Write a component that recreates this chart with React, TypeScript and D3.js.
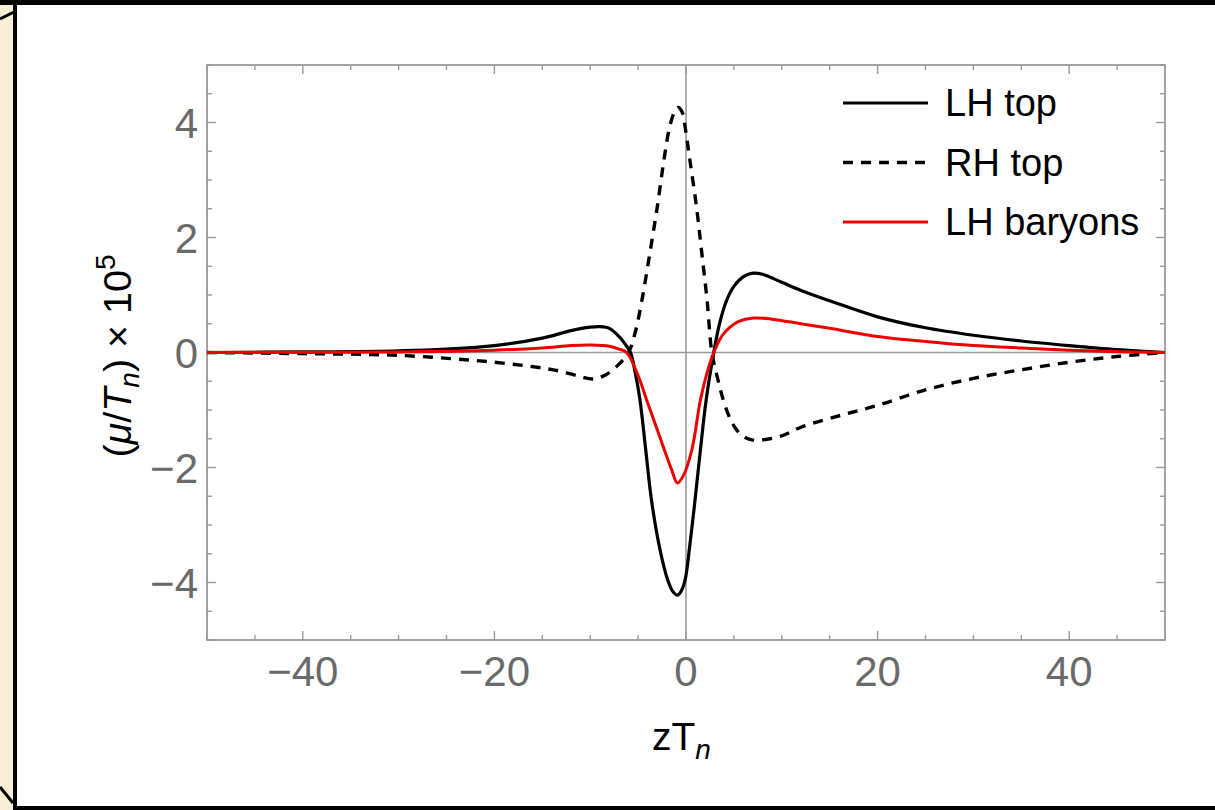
import React from "react";
import * as d3 from "d3";

const lhTopX = [-50, -40, -30, -25, -20, -15, -12, -10, -9, -8, -7, -6.5, -5.8, -5.3, -4.8, -4.2, -3.6, -2.7, -1.9, -1.4, -0.9, -0.5, -0.1, 0.4, 0.94, 1.5, 2.1, 2.9, 3.5, 4.25, 5, 6, 7, 8, 10, 12, 15, 20, 25, 30, 35, 40, 45, 50];
const lhTopY = [0, 0.01, 0.03, 0.06, 0.12, 0.25, 0.38, 0.44, 0.45, 0.42, 0.28, 0.18, 0, -0.35, -0.83, -1.7, -2.57, -3.44, -3.96, -4.15, -4.22, -4.15, -3.96, -3.35, -2.57, -1.7, -0.83, 0, 0.5, 0.91, 1.15, 1.32, 1.38, 1.36, 1.22, 1.08, 0.9, 0.62, 0.43, 0.3, 0.2, 0.12, 0.05, 0];

const rhTopX = [-50, -40, -30, -20, -15, -13, -11, -9.7, -8.5, -7.1, -6, -5.3, -4.6, -3.8, -3.0, -2.3, -1.7, -1.2, -0.8, -0.4, -0.1, 0.4, 1.1, 1.6, 2.2, 2.7, 3.3, 3.9, 4.6, 5.3, 6.1, 6.9, 8, 10, 12, 16, 20, 25, 30, 35, 40, 45, 50];
const rhTopY = [0, -0.02, -0.05, -0.17, -0.27, -0.33, -0.42, -0.46, -0.4, -0.22, 0, 0.35, 0.91, 1.7, 2.53, 3.35, 3.93, 4.18, 4.26, 4.18, 3.93, 3.35, 2.53, 1.8, 0.91, 0, -0.45, -0.83, -1.15, -1.35, -1.47, -1.52, -1.52, -1.45, -1.3, -1.1, -0.92, -0.65, -0.45, -0.3, -0.17, -0.07, 0];

const lhBarX = [-50, -40, -30, -20, -15, -12, -10, -8, -7, -6.2, -5, -4.1, -3.2, -2.2, -1.5, -0.9, -0.3, 0.6, 1.5, 2.2, 2.9, 3.8, 4.6, 5.5, 7, 9, 12, 15, 20, 25, 30, 35, 40, 45, 50];
const lhBarY = [0, 0.005, 0.01, 0.04, 0.08, 0.12, 0.13, 0.11, 0.06, 0, -0.4, -0.83, -1.25, -1.72, -2.04, -2.27, -2.15, -1.7, -0.83, -0.35, 0, 0.3, 0.44, 0.54, 0.6, 0.58, 0.5, 0.42, 0.28, 0.19, 0.12, 0.08, 0.04, 0.015, 0];

const xTicks = [-40, -20, 0, 20, 40];
const yTicks = [-4, -2, 0, 2, 4];
const legendLabels = ["LH top", "RH top", "LH baryons"];

const FONT = "'Liberation Sans', Arial, Helvetica, sans-serif";
const fmt = (v: number) => (v < 0 ? "\u2212" + Math.abs(v) : String(v));

export default function App() {
  const W = 1215, H = 810;
  const x = d3.scaleLinear().domain([-50, 50]).range([207, 1165]);
  const y = d3.scaleLinear().domain([-5, 5]).range([640, 65]);
  const line = d3.line<[number, number]>().x(d => x(d[0])).y(d => y(d[1])).curve(d3.curveCatmullRom.alpha(0.5));
  const zip = (a: number[], b: number[]) => a.map((v, i) => [v, b[i]] as [number, number]);

  const xMinor = d3.range(-50, 50.01, 5);
  const yMinor = d3.range(-5, 5.01, 0.5);
  const gray = "#9a9a9a";
  const [x0, x1] = x.range();
  const [y0, y1] = y.range();

  const series = [
    { d: zip(lhTopX, lhTopY), color: "#000", dash: "none", w: 3.2 },
    { d: zip(rhTopX, rhTopY), color: "#000", dash: "10,8", w: 3.4 },
    { d: zip(lhBarX, lhBarY), color: "#ee0000", dash: "none", w: 3 },
  ];

  return (
    <svg width={W} height={H} style={{ position: "absolute", left: 0, top: 0, background: "#fff" }}>
      {/* page frame */}
      <rect x={0} y={0} width={15} height={H} fill="#f5efd6" />
      <rect x={0} y={0} width={W} height={5} fill="#000" />
      <rect x={13} y={0} width={4} height={H} fill="#000" />
      <rect x={13} y={806} width={W} height={4} fill="#000" />
      <line x1={0} y1={19} x2={14} y2={12} stroke="#000" strokeWidth={3} />
      <line x1={0} y1={787} x2={13} y2={803} stroke="#000" strokeWidth={3} />

      {/* zero lines */}
      <line x1={x0} x2={x1} y1={y(0)} y2={y(0)} stroke={gray} strokeWidth={1.6} />
      <line x1={x(0)} x2={x(0)} y1={y0} y2={y1} stroke={gray} strokeWidth={1.6} />

      {/* ticks */}
      {xMinor.map(t => {
        const major = Math.abs(t % 20) < 1e-9;
        const len = major ? 9 : 5;
        return (
          <g key={"xt" + t}>
            <line x1={x(t)} x2={x(t)} y1={y0} y2={y0 - len} stroke={gray} strokeWidth={1.4} />
            <line x1={x(t)} x2={x(t)} y1={y1} y2={y1 + len} stroke={gray} strokeWidth={1.4} />
          </g>
        );
      })}
      {yMinor.map(t => {
        const major = Math.abs(t % 2) < 1e-9;
        const len = major ? 9 : 5;
        return (
          <g key={"yt" + t}>
            <line x1={x0} x2={x0 + len} y1={y(t)} y2={y(t)} stroke={gray} strokeWidth={1.4} />
            <line x1={x1} x2={x1 - len} y1={y(t)} y2={y(t)} stroke={gray} strokeWidth={1.4} />
          </g>
        );
      })}

      {/* frame */}
      <rect x={x0} y={y1} width={x1 - x0} height={y0 - y1} fill="none" stroke={gray} strokeWidth={1.8} />

      {/* tick labels */}
      {xTicks.map(t => (
        <text key={"xl" + t} x={x(t)} y={686} textAnchor="middle" fontFamily={FONT} fontSize={42} fill="#6a6a6a">{fmt(t)}</text>
      ))}
      {yTicks.map(t => (
        <text key={"yl" + t} x={198} y={y(t) + 15} textAnchor="end" fontFamily={FONT} fontSize={42} fill="#6a6a6a">{fmt(t)}</text>
      ))}

      {/* curves */}
      {series.map((s, i) => (
        <path key={"s" + i} d={line(s.d) || ""} fill="none" stroke={s.color} strokeWidth={s.w} strokeDasharray={s.dash} strokeLinejoin="round" />
      ))}

      {/* axis labels */}
      <text x={652} y={750} fontFamily={FONT} fontSize={39} fill="#000">
        zT<tspan fontStyle="italic" fontSize={28} dy={9}>n</tspan>
      </text>
      <text transform="translate(131,356) rotate(-90)" textAnchor="middle" fontFamily={FONT} fontSize={39.5} fill="#000">
        (<tspan fontStyle="italic">μ</tspan>/<tspan fontStyle="italic">T</tspan><tspan fontStyle="italic" fontSize={28} dy={8}>n</tspan><tspan dy={-8}>) × 10</tspan><tspan fontSize={28} dy={-16}>5</tspan>
      </text>

      {/* legend */}
      {legendLabels.map((lab, i) => {
        const ly = 103 + i * 59.5;
        const s = series[i];
        return (
          <g key={"lg" + i}>
            <line x1={843} x2={928} y1={ly} y2={ly} stroke={s.color} strokeWidth={s.w} strokeDasharray={s.dash === "none" ? "none" : "10,8"} />
            <text x={945} y={ly + 13} fontFamily={FONT} fontSize={38} fill="#000">{lab}</text>
          </g>
        );
      })}
    </svg>
  );
}
